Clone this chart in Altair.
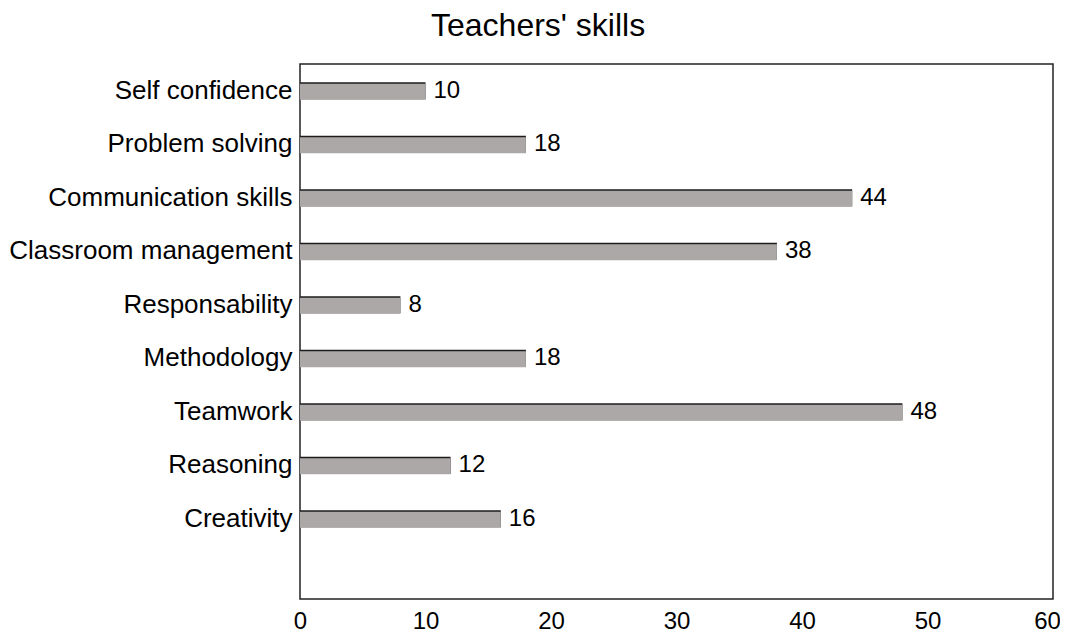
import altair as alt
import pandas as pd

categories = ["Self confidence", "Problem solving", "Communication skills",
              "Classroom management", "Responsability", "Methodology",
              "Teamwork", "Reasoning", "Creativity"]
values = [10, 18, 44, 38, 8, 18, 48, 12, 16]
x_ticks = [0, 10, 20, 30, 40, 50, 60]

df = pd.DataFrame({"skill": categories, "value": values})
domain = categories + [" "]

FONT = "Liberation Sans"
y_enc = alt.Y("skill:N", scale=alt.Scale(domain=domain, paddingInner=0, paddingOuter=0),
              axis=alt.Axis(title=None, domain=False, ticks=False, labelFontSize=26,
                            labelFont=FONT, labelColor="#000", labelPadding=8,
                            labelLimit=0))
x_enc = alt.X("value:Q", scale=alt.Scale(domain=[0, 60], nice=False),
              axis=alt.Axis(title=None, values=x_ticks, grid=False, domain=False, ticks=False,
                            labelFontSize=24, labelFont=FONT, labelColor="#000",
                            labelPadding=10, labelFlush=False,
                            labelOffset={"condition": {"test": "datum.value === 60",
                                                       "value": -6},
                                         "value": 0}))

base = alt.Chart(df)
dark = base.mark_bar(height=17, color="#1c1c1c").encode(x=x_enc, y=y_enc)
fill = base.mark_bar(height=16, yOffset=1, x2Offset=-1.5, color="#aca8a7").encode(
    x=alt.X("value:Q"), y=alt.Y("skill:N"))
labels = base.mark_text(align="left", baseline="middle", dx=8, fontSize=24, font=FONT,
                        color="#000").encode(x=alt.X("value:Q"), y=alt.Y("skill:N"),
                                             text=alt.Text("value:Q"))

chart = (dark + fill + labels).properties(
    width=753, height=535,
    autosize="none",
    padding={"left": 292, "top": 56, "right": 7, "bottom": 34},
    title=alt.TitleParams("Teachers' skills", anchor="start", frame="group", dx=131,
                          fontSize=32, fontWeight="normal", font=FONT, color="#000",
                          offset=21),
).configure_view(stroke="#222", strokeWidth=1.5)

chart.save("out.html", embed_options={"renderer": "svg", "actions": False})
